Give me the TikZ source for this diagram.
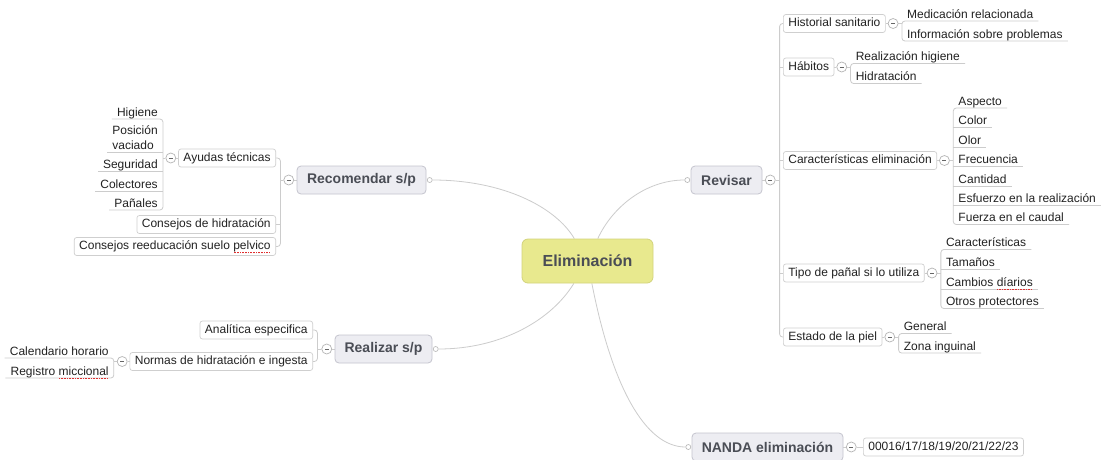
\documentclass[tikz,border=0pt]{standalone}
\usepackage{fontspec}
\setmainfont{Liberation Sans}
\usetikzlibrary{backgrounds,positioning,calc}
\definecolor{conncol}{HTML}{CCCCCC}
\definecolor{mainfill}{HTML}{EDEDF2}
\definecolor{mainborder}{HTML}{C5C5CE}
\definecolor{cenfill}{HTML}{E8E98E}
\definecolor{cenborder}{HTML}{D2D37C}
\definecolor{subborder}{HTML}{CFCFCF}
\definecolor{ink}{HTML}{222222}
\definecolor{maintext}{HTML}{4A4D55}
\definecolor{collborder}{HTML}{B5B5B5}
\definecolor{minuscol}{HTML}{666666}
\definecolor{spellred}{HTML}{E03030}
\newcommand\spellerr[1]{\setbox0=\hbox{#1}\rlap{\raisebox{-3.5pt}[0pt][0pt]{\textcolor{spellred}{\leaders\hbox to 1.6pt{\hss\vrule width 0.9pt height 0.9pt\hss}\hskip\wd0}}}\box0}
\begin{document}
\begin{tikzpicture}[x=1pt,y=-1pt,
  conn/.style={draw=conncol, line width=0.8pt},
  central/.style={draw=cenborder, fill=cenfill, rounded corners=6pt, line width=0.8pt,
    minimum width=131pt, minimum height=44pt, inner sep=0pt,
    font=\fontsize{16}{18}\selectfont\bfseries, text=maintext},
  maintopic/.style={draw=mainborder, fill=mainfill, rounded corners=4pt, line width=0.8pt,
    minimum height=28pt, inner xsep=9pt, inner ysep=0pt,
    font=\fontsize{14}{16}\selectfont\bfseries, text=maintext},
  subbox/.style={draw=subborder, fill=white, rounded corners=2.5pt, line width=0.7pt,
    minimum height=18pt, inner xsep=5pt, inner ysep=0pt, text height=9pt, text depth=2.5pt,
    font=\fontsize{12}{14}\selectfont, text=ink},
  leafml/.style={inner xsep=5pt, inner ysep=0pt, text depth=2.5pt, align=left,
    font=\fontsize{12}{15}\selectfont, text=ink},
  leaf/.style={leafml, text height=9pt},
  collapse/.style={circle, draw=collborder, fill=white, line width=0.7pt, minimum size=10pt, inner sep=0pt,
    path picture={\draw[line width=0.8pt, draw=minuscol]
      ([xshift=-2pt]path picture bounding box.center) -- ([xshift=2pt]path picture bounding box.center);}},
  dotmark/.style={circle, draw=collborder, fill=white, line width=0.6pt, minimum size=5pt, inner sep=0pt}
]
\useasboundingbox (0,0) rectangle (1108,459);
\clip (0,0) rectangle (1108,459);

% central topic
\node[central] (c) at (587.5,261) {Eliminación};

% ---------- Recomendar s/p ----------
\node[maintopic, minimum width=129pt] (rec) at (361.5,180) {Recomendar s/p};
\node[dotmark, right=0.5pt of rec] (recdot) {};
\node[collapse, left=2.5pt of rec] (reccol) {};
\coordinate (recsp) at ($(reccol.west)+(-3pt,0)$);
\node[subbox, anchor=east] (ayu) at (276,158) {Ayudas técnicas};
\node[subbox, anchor=east] (chid) at (276,224.5) {Consejos de hidratación};
\node[subbox, anchor=east] (creed) at (276,246.5) {Consejos reeducación suelo \spellerr{pelvico}};
\node[collapse, left=2pt of ayu] (ayucol) {};
\coordinate (ayusp) at ($(ayucol.west)+(-2.5pt,0)$);
\node[leaf, anchor=south east] (hig) at (ayusp |- 0,119) {Higiene};
\node[leafml, anchor=south east] (pos) at (ayusp |- 0,152) {Posición\\vaciado};
\node[leaf, anchor=south east] (seg) at (ayusp |- 0,171) {Seguridad};
\node[leaf, anchor=south east] (cole) at (ayusp |- 0,191) {Colectores};
\node[leaf, anchor=south east] (pan) at (ayusp |- 0,210) {Pañales};

% ---------- Realizar s/p ----------
\node[maintopic, minimum width=97pt] (real) at (383.5,349) {Realizar s/p};
\node[dotmark, right=0.5pt of real] (realdot) {};
\node[collapse, left=2.5pt of real] (realcol) {};
\coordinate (realsp) at ($(realcol.west)+(-4pt,0)$);
\node[subbox, anchor=east] (anal) at (313,330) {Analítica especifica};
\node[subbox, anchor=east] (norm) at (313,361.5) {Normas de hidratación e ingesta};
\node[collapse, left=2pt of norm] (normcol) {};
\coordinate (normsp) at ($(normcol.west)+(-3pt,0)$);
\node[leaf, anchor=south east] (cal) at (normsp |- 0,358) {Calendario horario};
\node[leaf, anchor=south east] (reg) at (normsp |- 0,378) {Registro \spellerr{miccional}};

% ---------- Revisar ----------
\node[maintopic, minimum width=71pt] (rev) at (726.5,180) {Revisar};
\node[dotmark, left=0.5pt of rev] (revdot) {};
\node[collapse, right=2.5pt of rev] (revcol) {};
\coordinate (revsp) at ($(revcol.east)+(4pt,0)$);
\node[subbox, anchor=west] (hist) at (783,23.5) {Historial sanitario};
\node[subbox, anchor=west] (hab) at (783,67) {Hábitos};
\node[subbox, anchor=west] (car) at (783,160.5) {Características eliminación};
\node[subbox, anchor=west] (tipo) at (783,273) {Tipo de pañal si lo utiliza};
\node[subbox, anchor=west] (est) at (783,337) {Estado de la piel};
\node[collapse, right=2pt of hist] (histcol) {};
\node[collapse, right=2pt of hab] (habcol) {};
\node[collapse, right=2pt of car] (carcol) {};
\node[collapse, right=2pt of tipo] (tipocol) {};
\node[collapse, right=2pt of est] (estcol) {};
\coordinate (histsp) at ($(histcol.east)+(3.5pt,0)$);
\coordinate (habsp) at ($(habcol.east)+(3.5pt,0)$);
\coordinate (carsp) at ($(carcol.east)+(3.5pt,0)$);
\coordinate (tiposp) at ($(tipocol.east)+(3.5pt,0)$);
\coordinate (estsp) at ($(estcol.east)+(3.5pt,0)$);
\node[leaf, anchor=south west] (med) at (histsp |- 0,21) {Medicación relacionada};
\node[leaf, anchor=south west] (inf) at (histsp |- 0,41) {Información sobre problemas};
\node[leaf, anchor=south west] (rhig) at (habsp |- 0,63.5) {Realización higiene};
\node[leaf, anchor=south west] (hidr) at (habsp |- 0,83.5) {Hidratación};
\node[leaf, anchor=south west] (asp) at (carsp |- 0,108) {Aspecto};
\node[leaf, anchor=south west] (colr) at (carsp |- 0,127.5) {Color};
\node[leaf, anchor=south west] (olor) at (carsp |- 0,147) {Olor};
\node[leaf, anchor=south west] (frec) at (carsp |- 0,166.5) {Frecuencia};
\node[leaf, anchor=south west] (cant) at (carsp |- 0,186) {Cantidad};
\node[leaf, anchor=south west] (esf) at (carsp |- 0,205.5) {Esfuerzo en la realización};
\node[leaf, anchor=south west] (fue) at (carsp |- 0,224.5) {Fuerza en el caudal};
\node[leaf, anchor=south west] (tcar) at (tiposp |- 0,249.5) {Características};
\node[leaf, anchor=south west] (tam) at (tiposp |- 0,269.5) {Tamaños};
\node[leaf, anchor=south west] (camb) at (tiposp |- 0,289) {Cambios \spellerr{díarios}};
\node[leaf, anchor=south west] (otr) at (tiposp |- 0,308.5) {Otros protectores};
\node[leaf, anchor=south west] (gen) at (estsp |- 0,333.5) {General};
\node[leaf, anchor=south west] (zon) at (estsp |- 0,353) {Zona inguinal};

% ---------- NANDA ----------
\node[maintopic, minimum width=151pt] (nanda) at (767.5,447) {NANDA eliminación};
\node[dotmark, left=0.5pt of nanda] (nandadot) {};
\node[collapse, right=2.5pt of nanda] (nandacol) {};
\node[subbox, anchor=west] (code) at (863,447) {00016/17/18/19/20/21/22/23};

% ---------- connectors ----------
\begin{scope}[on background layer]
\fill[white] (0,0) rectangle (1108,459);
% from the central topic
\draw[conn] (recdot) .. controls (503,180) and (555.7,207) .. (c);
\draw[conn] (revdot) .. controls (645.7,180) and (612.3,207) .. (c);
\draw[conn] (realdot) .. controls (501.7,349) and (551.7,319.7) .. (c);
\draw[conn] (nandadot) .. controls (644.7,447) and (611.7,385) .. (c);
% Recomendar
\draw[conn] (rec) -- (reccol) -- (recsp);
\draw[conn, rounded corners=3pt] (ayu.east) -- (ayu.east -| recsp) -- (creed.east -| recsp) -- (creed.east);
\draw[conn] (chid.east) -- (chid.east -| recsp);
\draw[conn] (ayu) -- (ayucol) -- (ayusp);
\draw[conn, rounded corners=3pt] (hig.south west) -- (hig.south east) -- (pan.south east) -- (pan.south west);
\draw[conn] (pos.south west) -- (pos.south east);
\draw[conn] (seg.south west) -- (seg.south east);
\draw[conn] (cole.south west) -- (cole.south east);
% Realizar
\draw[conn] (real) -- (realcol) -- (realsp);
\draw[conn, rounded corners=3pt] (anal.east) -- (anal.east -| realsp) -- (norm.east -| realsp) -- (norm.east);
\draw[conn] (norm) -- (normcol) -- (normsp);
\draw[conn, rounded corners=3pt] (cal.south west) -- (cal.south east) -- (reg.south east) -- (reg.south west);
% Revisar
\draw[conn] (rev) -- (revcol) -- (revsp);
\draw[conn, rounded corners=3pt] (hist.west) -- (hist.west -| revsp) -- (est.west -| revsp) -- (est.west);
\draw[conn] (hab.west) -- (hab.west -| revsp);
\draw[conn] (car.west) -- (car.west -| revsp);
\draw[conn] (tipo.west) -- (tipo.west -| revsp);
\draw[conn] (hist) -- (histcol) -- (histsp);
\draw[conn] (hab) -- (habcol) -- (habsp);
\draw[conn] (car) -- (carcol) -- (carsp);
\draw[conn] (tipo) -- (tipocol) -- (tiposp);
\draw[conn] (est) -- (estcol) -- (estsp);
\draw[conn, rounded corners=3pt] (med.south east) -- (med.south west) -- (inf.south west) -- (inf.south east);
\draw[conn, rounded corners=3pt] (rhig.south east) -- (rhig.south west) -- (hidr.south west) -- (hidr.south east);
\draw[conn, rounded corners=3pt] (asp.south east) -- (asp.south west) -- (fue.south west) -- (fue.south east);
\draw[conn] (colr.south west) -- (colr.south east);
\draw[conn] (olor.south west) -- (olor.south east);
\draw[conn] (frec.south west) -- (frec.south east);
\draw[conn] (cant.south west) -- (cant.south east);
\draw[conn] (esf.south west) -- (esf.south east);
\draw[conn, rounded corners=3pt] (tcar.south east) -- (tcar.south west) -- (otr.south west) -- (otr.south east);
\draw[conn] (tam.south west) -- (tam.south east);
\draw[conn] (camb.south west) -- (camb.south east);
\draw[conn, rounded corners=3pt] (gen.south east) -- (gen.south west) -- (zon.south west) -- (zon.south east);
% NANDA
\draw[conn] (nanda) -- (nandacol) -- (code);
\end{scope}
\end{tikzpicture}
\end{document}
